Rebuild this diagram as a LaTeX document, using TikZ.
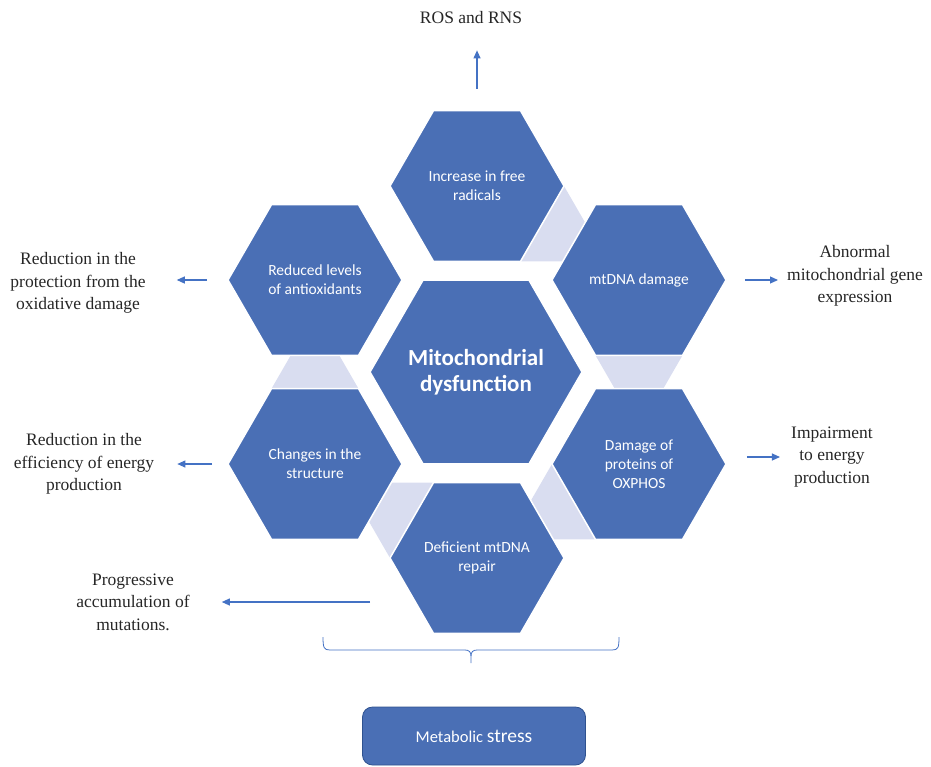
\documentclass[tikz,border=0pt]{standalone}
\usepackage{fontspec}
\setmainfont{Liberation Serif}
\newfontfamily\calibri{Carlito}
\usetikzlibrary{shapes.geometric,calc,backgrounds,arrows.meta}

\definecolor{hexblue}{RGB}{74,111,181}
\definecolor{linkblue}{RGB}{217,221,240}
\definecolor{arrowblue}{RGB}{68,114,196}
\definecolor{edgeblue}{RGB}{47,82,143}

\begin{document}
\begin{tikzpicture}
	% Styles
	[
	x=1pt, y=1pt,
	hex/.style={regular polygon, regular polygon sides=6, minimum size=174pt, inner sep=0pt, fill=hexblue, draw=white, line width=1.5pt, text=white, align=center, font=\calibri\fontsize{15.5}{19}\selectfont},
	core/.style={hex, minimum size=212pt, inner sep=-14pt, font=\calibri\bfseries\fontsize{23}{26}\selectfont},
	link/.style={fill=linkblue},
	effect/.style={align=center, inner sep=0pt, text=black!85, font=\fontsize{17.5}{22.5}\selectfont},
	arr/.style={draw=arrowblue, line width=1.1pt, -{Triangle[length=8pt,width=7pt]}},
	stress/.style={rectangle, rounded corners=10pt, minimum width=223pt, minimum height=58pt, fill=hexblue, draw=edgeblue, line width=0.8pt, text=white, font=\calibri\fontsize{16.5}{20}\selectfont}
	]
	\useasboundingbox (0,0) rectangle (931,-766);

	% Nodes
	\node at (476,-372)	(mito)		[core] {Mitochondrial\\dysfunction};
	\node at (477,-186)	(radicals)	[hex] {Increase in free\\radicals};
	\node at (639,-280)	(mtdna)		[hex] {mtDNA damage};
	\node at (639,-464)	(oxphos)	[hex] {Damage of\\proteins of\\OXPHOS};
	\node at (477,-558)	(repair)	[hex] {Deficient mtDNA\\repair};
	\node at (315,-464)	(changes)	[hex] {Changes in the\\structure};
	\node at (315,-280)	(antiox)	[hex] {Reduced levels\\of antioxidants};

	\node at (471,-18)	(ros)		[effect] {ROS and RNS};
	\node at (78,-283)	(protect)	[effect] {Reduction in the\\protection from the\\oxidative damage};
	\node at (855,-276)	(geneexp)	[effect] {Abnormal\\mitochondrial gene\\expression};
	\node at (84,-464)	(efficiency)	[effect] {Reduction in the\\efficiency of energy\\production};
	\node at (832,-457)	(impair)	[effect] {Impairment\\to energy\\production};
	\node at (133,-602)	(mutations)	[effect] {Progressive\\accumulation of\\mutations.};

	\node at (474,-736)	(metab)		[stress] {Metabolic {\fontsize{19.5}{22}\selectfont stress}};

	% Links between the hexagons
	\begin{scope}[on background layer]
		\foreach \src/\ang in {radicals/-30, mtdna/-90, oxphos/-150, repair/150, changes/90}
			\fill[link] ($(\src)+({\ang+30}:87)$) -- ($(\src)+(\ang:150.7)$) -- ($(\src)+({\ang-30}:87)$) -- cycle;
	\end{scope}

	% Connections
	\draw[arr, shorten <=21pt, shorten >=26pt] (radicals.north) -- (radicals.north |- ros.south);
	\draw[arr, shorten <=20pt, shorten >=31pt] (antiox.west) -- (antiox.west -| protect.east);
	\draw[arr, shorten <=18pt, shorten >=9pt] (mtdna.east) -- (mtdna.east -| geneexp.west);
	\draw[arr, shorten <=15pt, shorten >=23pt] (changes.west) -- (changes.west -| efficiency.east);
	\draw[arr, shorten <=20pt, shorten >=11pt] ([yshift=7pt]oxphos.east) -- ([yshift=7pt]oxphos.east -| impair.west);
	\draw[arr, shorten <=19pt, shorten >=32pt] (repair.west |- mutations.east) -- (mutations.east);

	% Brace
	\draw[arrowblue, line width=0.8pt] (323,-637) .. controls (323,-648) and (324,-650) .. (330,-650) -- (465,-650)
		.. controls (469,-650) and (471,-652) .. (471,-656) -- (471,-663);
	\draw[arrowblue, line width=0.8pt] (619,-637) .. controls (619,-648) and (618,-650) .. (612,-650) -- (477,-650)
		.. controls (473,-650) and (471,-652) .. (471,-656);

\end{tikzpicture}
\end{document}
